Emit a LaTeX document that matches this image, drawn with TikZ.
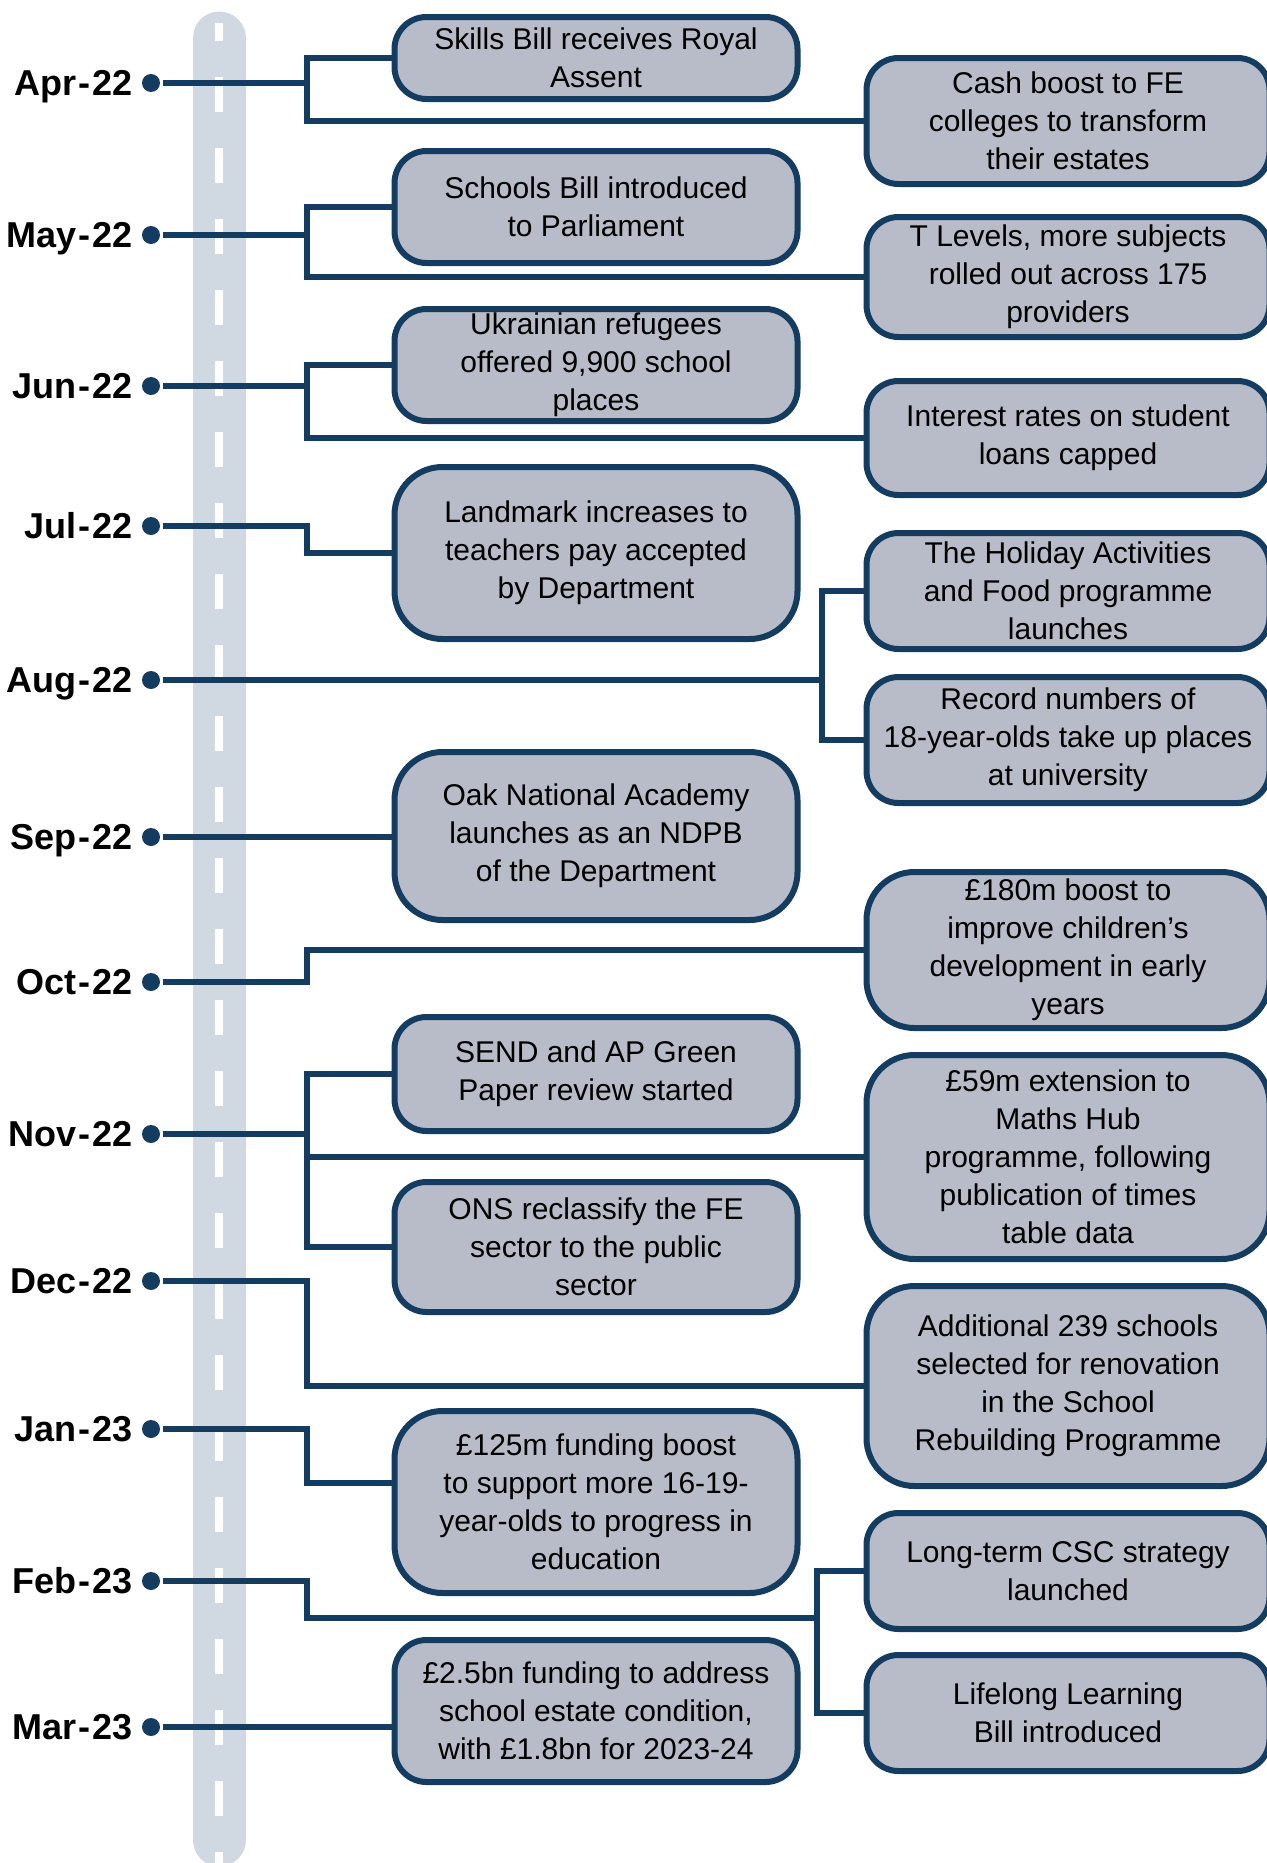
\documentclass[tikz,border=0pt]{standalone}
\usepackage{fontspec}
\setmainfont{Liberation Sans}
\usetikzlibrary{positioning}
\definecolor{navy}{RGB}{20,60,96}
\definecolor{boxgrey}{RGB}{183,188,200}
\definecolor{roadgrey}{RGB}{208,216,225}
\begin{document}
\begin{tikzpicture}[x=0.5pt, y=-0.5pt, line width=3pt,
    evt/.style = {draw=navy, fill=boxgrey, rounded corners=16pt, minimum width=201.5pt, align=center, inner sep=2pt, font=\fontsize{15}{19}\selectfont},
    big/.style = {rounded corners=24pt},
    dot/.style = {circle, fill=navy, inner sep=0pt, minimum size=9pt},
    month/.style = {inner sep=0pt, text height=12.9pt, text depth=0pt, font=\fontsize{18}{20}\bfseries\selectfont},
    link/.style = {draw=navy}]
    \useasboundingbox (0,0) rectangle (1266,1863);
    % road
    \draw[roadgrey, line width=26.5pt, line cap=round] (219,38) -- (219,1840);
    \draw[white, line width=4pt, dash pattern=on 17.5pt off 18pt, dash phase=8.5pt] (219,23) -- (219,1863);
    % months
    \foreach \mo/\yr/\yy/\nm in {Apr/22/83/apr, May/22/235/may, Jun/22/386/jun, Jul/22/526/jul, Aug/22/680/aug, Sep/22/837/sep, Oct/22/982/oct, Nov/22/1134/nov, Dec/22/1281/dec, Jan/23/1429/jan, Feb/23/1581/feb, Mar/23/1727/mar}
    {
        \node[dot] (\nm) at (151,\yy) {};
        \node[month, left=1.5pt of \nm] (\nm-lbl) {\mo\hspace{1pt}-\hspace{1pt}\yr};
    }
    % events
    \node[evt, minimum height=41pt] (skills) at (596,58) {Skills Bill receives Royal\\Assent};
    \node[evt, minimum height=63pt] (cash) at (1068,121) {Cash boost to FE\\colleges to transform\\their estates};
    \node[evt, minimum height=56pt] (schools) at (596,207) {Schools Bill introduced\\to Parliament};
    \node[evt, minimum height=60pt] (tlevels) at (1068,277) {T Levels, more subjects\\rolled out across 175\\providers};
    \node[evt, minimum height=56pt] (refugees) at (596,365) {Ukrainian refugees\\offered 9,900 school\\places};
    \node[evt, minimum height=57pt] (loans) at (1068,438) {Interest rates on student\\loans capped};
    \node[evt, big, minimum height=86pt] (teachpay) at (596,553) {Landmark increases to\\teachers pay accepted\\by Department};
    \node[evt, minimum height=58pt] (holiday) at (1068,591) {The Holiday Activities\\and Food programme\\launches};
    \node[evt, minimum height=63pt] (record) at (1068,740) {Record numbers of\\18-year-olds take up places\\at university};
    \node[evt, big, minimum height=84pt] (oak) at (596,836) {Oak National Academy\\launches as an NDPB\\of the Department};
    \node[evt, big, minimum height=78pt] (early) at (1068,950) {£180m boost to\\improve children’s\\development in early\\years};
    \node[evt, minimum height=57pt] (send) at (596,1074) {SEND and AP Green\\Paper review started};
    \node[evt, big, minimum height=102pt] (maths) at (1068,1157) {£59m extension to\\Maths Hub\\programme, following\\publication of times\\table data};
    \node[evt, minimum height=65pt] (ons) at (596,1247) {ONS reclassify the FE\\sector to the public\\sector};
    \node[evt, big, minimum height=100pt] (rebuild) at (1068,1386) {Additional 239 schools\\selected for renovation\\in the School\\Rebuilding Programme};
    \node[evt, big, minimum height=91pt] (fund125) at (596,1502) {£125m funding boost\\to support more 16-19-\\year-olds to progress in\\education};
    \node[evt, minimum height=58pt] (csc) at (1068,1571) {Long-term CSC strategy\\launched};
    \node[evt, minimum height=58pt] (lifelong) at (1068,1713) {Lifelong Learning\\Bill introduced};
    \node[evt, minimum height=71pt] (estate) at (596,1711) {£2.5bn funding to address\\school estate condition,\\with £1.8bn for 2023-24};
    % junctions
    \coordinate (aprJ) at (307,83);
    \coordinate (mayJ) at (307,235);
    \coordinate (junJ) at (307,386);
    \coordinate (julJ) at (307,526);
    \coordinate (augJ) at (822,680);
    \coordinate (octJ) at (307,982);
    \coordinate (novJ) at (307,1134);
    \coordinate (decJ) at (307,1281);
    \coordinate (janJ) at (307,1429);
    \coordinate (febJ) at (307,1581);
    \coordinate (febK) at (817,1618);
    % connectors
    \draw[link] (apr) -- (aprJ) |- (skills.west);
    \draw[link] (aprJ) |- (cash.west);
    \draw[link] (may) -- (mayJ) |- (schools.west);
    \draw[link] (mayJ) |- (tlevels.west);
    \draw[link] (jun) -- (junJ) |- (refugees.west);
    \draw[link] (junJ) |- (loans.west);
    \draw[link] (jul) -- (julJ) |- (teachpay.west);
    \draw[link] (aug) -- (augJ) |- (holiday.west);
    \draw[link] (augJ) |- (record.west);
    \draw[link] (sep) -- (sep -| oak.west);
    \draw[link] (oct) -- (octJ) |- (early.west);
    \draw[link] (nov) -- (novJ) |- (send.west);
    \draw[link] (novJ) |- (ons.west);
    \draw[link] (novJ |- maths.west) -- (maths.west);
    \draw[link] (dec) -- (decJ) |- (rebuild.west);
    \draw[link] (jan) -- (janJ) |- ([yshift=9.5pt]fund125.west);
    \draw[link] (feb) -- (febJ) |- (febK);
    \draw[link] (febK) |- (csc.west);
    \draw[link] (febK) |- (lifelong.west);
    \draw[link] (mar) -- (mar -| estate.west);
\end{tikzpicture}
\end{document}
